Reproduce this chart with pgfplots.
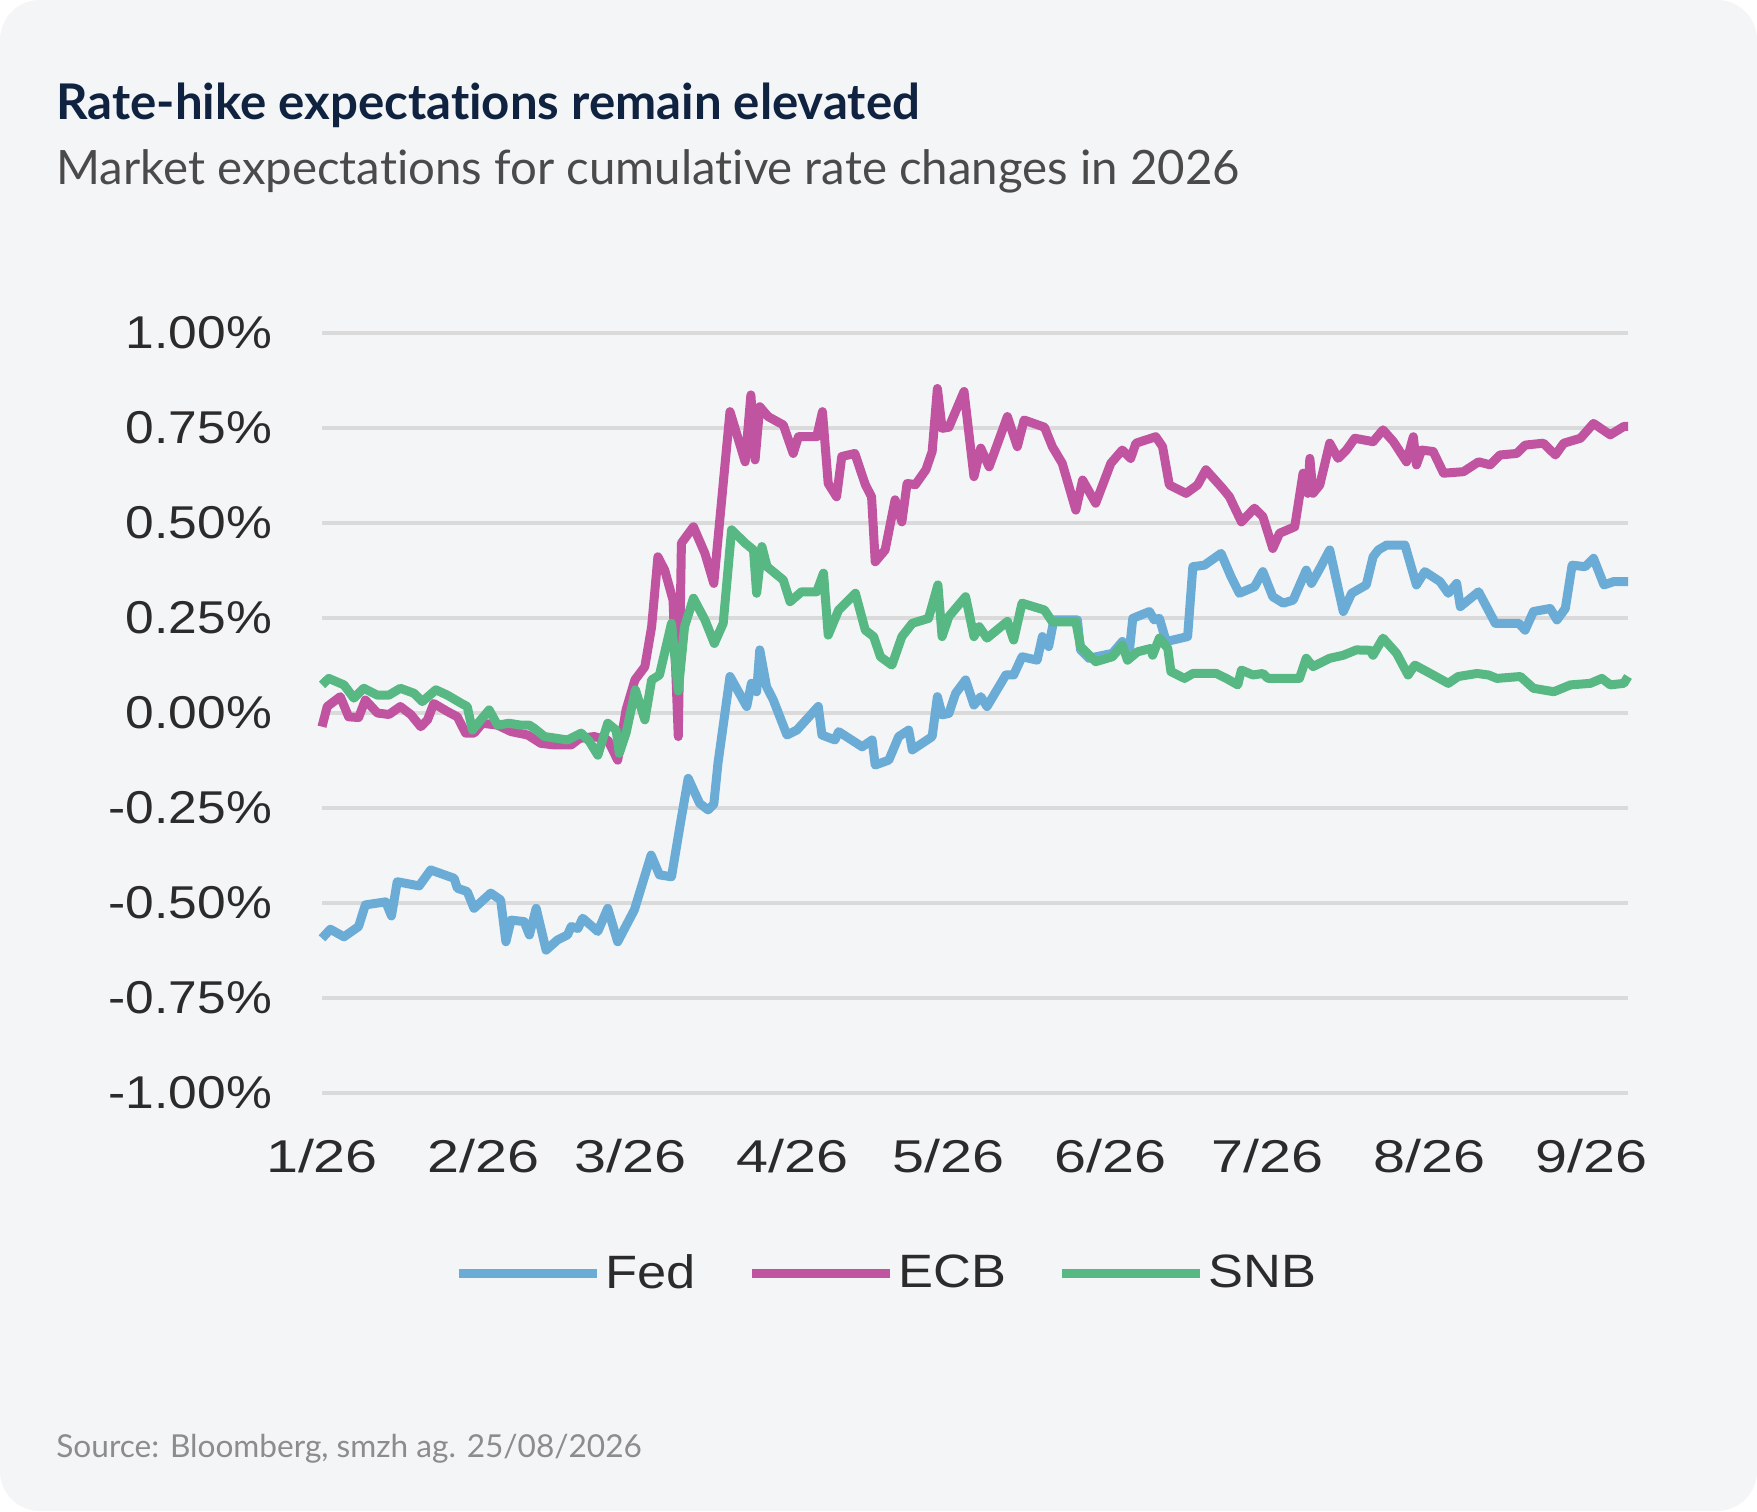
\documentclass[border=0pt]{standalone}
\usepackage{fontspec}
\usepackage{pgfplots}
\pgfplotsset{compat=1.18}
\setmainfont{Lato}[Ligatures={NoCommon}]
\newfontfamily\tickfont[FakeStretch=1.12]{Liberation Sans}
\newfontfamily\xtickfont[FakeStretch=1.25]{Liberation Sans}
\definecolor{bg}{HTML}{F4F5F7}
\definecolor{titlecol}{HTML}{0F2340}
\definecolor{subcol}{HTML}{4A4A4A}
\definecolor{srccol}{HTML}{8C8C8C}
\definecolor{gridcol}{HTML}{DADADA}
\definecolor{fedcol}{HTML}{6BACD6}
\definecolor{ecbcol}{HTML}{C054A0}
\definecolor{snbcol}{HTML}{57B884}
\definecolor{tickcol}{HTML}{2B2B2B}
\begin{document}
\begin{tikzpicture}
\useasboundingbox (0,0) rectangle (878.5pt,755.5pt);
\fill[white] (0,0) rectangle (878.5pt,755.5pt);
\fill[bg, rounded corners=20pt] (0,0) rectangle (878.5pt,755.5pt);
\node[anchor=base west, inner sep=0, text=titlecol, font=\fontsize{24.6pt}{29pt}\selectfont\bfseries] at (28pt,695.5pt) {Rate-hike expectations remain elevated};
\node[anchor=base west, inner sep=0, text=subcol, font=\fontsize{23.7pt}{28pt}\selectfont] at (28pt,663pt) {Market expectations for cumulative rate changes in 2026};
\node[anchor=base west, inner sep=0, text=srccol, font=\fontsize{15.8pt}{18pt}\selectfont] at (28pt,27pt) {Source: Bloomberg, smzh ag. 25/08/2026};
\begin{axis}[
  at={(161pt,209pt)}, anchor=south west, scale only axis,
  width=653pt, height=380pt,
  xmin=0, xmax=250, ymin=-1, ymax=1,
  axis line style={draw=none},
  major tick length=0pt,
  clip=false,
  xtick={0,31,59,90,120,151,181,212,243},
  xticklabels={1/26,2/26,3/26,4/26,5/26,6/26,7/26,8/26,9/26},
  ytick={-1,-0.75,-0.5,-0.25,0,0.25,0.5,0.75,1},
  yticklabels={-1.00\%,-0.75\%,-0.50\%,-0.25\%,0.00\%,0.25\%,0.50\%,0.75\%,1.00\%},
  ymajorgrids,
  major grid style={gridcol, line width=2pt},
  yticklabel style={font=\tickfont\fontsize{23pt}{26pt}\selectfont, text=tickcol, anchor=east, xshift=-21.5pt},
  xticklabel style={font=\xtickfont\fontsize{23pt}{26pt}\selectfont, text=tickcol, anchor=base, yshift=-40pt},
  legend columns=3,
  legend style={draw=none, fill=none, at={(0.101,-0.237)}, anchor=west, inner sep=0pt,
    font=\tickfont\fontsize{23.4pt}{28pt}\selectfont, text=tickcol,
    /tikz/every even column/.append style={column sep=23.8pt}},
  legend image code/.code={\draw[#1, line width=4.5pt] (0pt,0pt) -- (69pt,0pt);},
  every axis plot/.append style={line width=4.5pt, line join=round},
]
\addplot[fedcol] coordinates {
(0,-0.593)(1.6,-0.569)(4.2,-0.589)(7.0,-0.562)(8.3,-0.505)(12.2,-0.497)(13.3,-0.534)(14.4,-0.444)
(18.6,-0.455)(20.8,-0.413)(25.3,-0.435)(25.9,-0.461)(27.8,-0.470)(29.1,-0.514)(32.3,-0.474)(34.2,-0.492)
(35.2,-0.602)(36.2,-0.545)(38.7,-0.549)(39.7,-0.584)(41.0,-0.514)(42.9,-0.624)(45.1,-0.597)(47.0,-0.584)
(47.7,-0.562)(49.0,-0.567)(49.9,-0.540)(52.8,-0.575)(54.7,-0.514)(56.6,-0.602)(59.8,-0.518)(63.0,-0.374)
(64.6,-0.426)(66.9,-0.431)(68.5,-0.299)(70.1,-0.172)(72.3,-0.238)(73.9,-0.255)(75.0,-0.240)(75.8,-0.132)
(78.1,0.096)(81.3,0.017)(82.2,0.078)(83.2,0.056)(83.8,0.166)(85.1,0.069)(86.4,0.034)(89.0,-0.058)
(90.9,-0.045)(95.0,0.017)(95.7,-0.058)(98.2,-0.071)(98.9,-0.049)(103.4,-0.089)(105.3,-0.071)(105.9,-0.137)
(108.5,-0.124)(110.4,-0.062)(112.3,-0.045)(113.0,-0.097)(116.8,-0.062)(117.8,0.043)(118.7,-0.005)(120.0,-0.001)
(121.3,0.052)(123.2,0.087)(124.8,0.021)(126.1,0.043)(127.3,0.017)(130.9,0.100)(132.4,0.100)(134.0,0.148)
(136.9,0.139)(137.9,0.201)(139.1,0.175)(140.1,0.245)(144.6,0.245)(145.2,0.166)(146.8,0.144)(151.3,0.157)
(153.2,0.188)(154.5,0.157)(155.2,0.249)(158.4,0.267)(159.3,0.245)(160.3,0.249)(161.6,0.188)(165.7,0.201)
(166.7,0.385)(168.9,0.389)(172.1,0.420)(174.0,0.359)(175.6,0.315)(178.5,0.332)(180.1,0.372)(182.0,0.306)
(184.0,0.289)(185.9,0.297)(188.4,0.376)(189.4,0.341)(191.0,0.380)(192.9,0.429)(195.5,0.267)(197.1,0.315)
(199.9,0.337)(201.2,0.411)(202.2,0.429)(203.8,0.442)(207.3,0.442)(209.5,0.337)(211.1,0.372)(214.0,0.346)
(215.6,0.315)(217.2,0.341)(217.9,0.280)(221.4,0.319)(224.6,0.236)(229.1,0.236)(230.3,0.218)(231.9,0.267)
(235.1,0.275)(236.4,0.245)(238.0,0.275)(239.3,0.389)(241.8,0.385)(243.4,0.407)(245.4,0.337)(247.3,0.346)
(250,0.346)};
\addlegendentry{Fed}
\addplot[ecbcol] coordinates {
(0,-0.036)(1.0,0.017)(3.5,0.043)(5.1,-0.010)(7.0,-0.012)(8.3,0.034)(10.6,0.000)(12.8,-0.004)
(15.0,0.017)(17.0,-0.004)(18.9,-0.036)(20.2,-0.018)(21.4,0.025)(24.0,0.004)(25.9,-0.010)(27.5,-0.053)
(29.1,-0.053)(30.7,-0.027)(33.6,-0.032)(36.2,-0.049)(39.4,-0.058)(41.9,-0.080)(44.5,-0.084)(47.7,-0.084)
(49.3,-0.067)(52.1,-0.062)(54.7,-0.071)(56.6,-0.124)(58.2,0.008)(59.9,0.087)(61.8,0.122)(63.1,0.227)
(64.3,0.411)(65.6,0.376)(67.2,0.297)(68.2,-0.062)(68.8,0.447)(71.1,0.490)(73.3,0.420)(75.0,0.341)
(78.1,0.793)(81.0,0.661)(82.1,0.837)(82.9,0.666)(83.8,0.806)(85.4,0.780)(88.3,0.758)(90.2,0.683)
(91.2,0.727)(94.7,0.727)(95.8,0.793)(96.9,0.604)(98.5,0.569)(99.5,0.675)(102.0,0.683)(104.0,0.601)
(105.2,0.569)(105.9,0.398)(107.8,0.429)(109.7,0.561)(111.0,0.503)(112.0,0.604)(113.6,0.601)(115.6,0.640)
(116.8,0.688)(117.8,0.854)(118.7,0.749)(120.0,0.752)(122.9,0.846)(124.8,0.622)(126.1,0.697)(127.7,0.648)
(131.2,0.780)(133.1,0.701)(134.4,0.771)(138.3,0.752)(139.8,0.701)(141.7,0.657)(144.3,0.534)(145.6,0.613)
(148.1,0.552)(151.0,0.657)(153.2,0.692)(154.8,0.670)(155.8,0.710)(159.6,0.727)(160.9,0.701)(162.2,0.600)
(165.4,0.578)(167.6,0.600)(169.2,0.640)(172.4,0.591)(173.7,0.569)(176.0,0.503)(178.5,0.539)(180.1,0.517)
(182.0,0.433)(183.3,0.473)(186.2,0.490)(187.8,0.631)(188.7,0.578)(189.1,0.670)(189.7,0.578)(191.0,0.600)
(192.9,0.710)(194.5,0.670)(196.1,0.692)(197.7,0.723)(201.2,0.714)(203.1,0.745)(205.1,0.714)(207.6,0.661)
(208.9,0.727)(209.5,0.653)(210.5,0.692)(212.7,0.688)(214.7,0.631)(218.5,0.635)(221.4,0.661)(223.6,0.653)
(225.5,0.679)(228.7,0.683)(230.3,0.705)(233.8,0.710)(236.1,0.679)(237.7,0.710)(240.9,0.723)(243.4,0.762)
(246.6,0.732)(249.2,0.754)(250,0.754)};
\addlegendentry{ECB}
\addplot[snbcol] coordinates {
(0,0.074)(1.3,0.091)(4.2,0.074)(6.1,0.039)(8.0,0.065)(10.6,0.047)(12.8,0.047)(15.0,0.065)
(17.6,0.052)(19.2,0.030)(21.8,0.061)(24.0,0.047)(26.6,0.026)(27.8,0.017)(28.8,-0.045)(30.4,-0.018)
(32.0,0.008)(33.6,-0.032)(35.8,-0.027)(38.1,-0.032)(39.7,-0.032)(40.6,-0.040)(42.6,-0.062)(47.0,-0.071)
(49.6,-0.053)(51.2,-0.075)(52.8,-0.111)(54.7,-0.027)(56.3,-0.045)(56.9,-0.106)(58.2,-0.053)(60.0,0.061)
(61.8,-0.018)(63.1,0.087)(64.6,0.100)(66.9,0.236)(68.2,0.058)(69.4,0.227)(71.1,0.302)(73.3,0.245)
(75.1,0.183)(76.8,0.236)(78.4,0.482)(81.0,0.447)(82.6,0.429)(83.2,0.315)(84.2,0.438)(85.2,0.385)
(88.3,0.350)(89.6,0.293)(91.8,0.319)(94.7,0.319)(96.0,0.368)(96.9,0.205)(98.9,0.271)(102.1,0.315)
(104.0,0.218)(105.6,0.201)(106.9,0.148)(109.1,0.126)(111.0,0.201)(113.0,0.236)(116.1,0.249)(117.9,0.337)
(118.7,0.201)(120.0,0.254)(123.2,0.306)(124.8,0.201)(125.8,0.227)(127.3,0.197)(131.2,0.241)(132.4,0.192)
(134.0,0.289)(138.3,0.271)(139.8,0.240)(144.3,0.240)(145.2,0.175)(148.1,0.135)(151.3,0.148)(153.2,0.179)
(154.2,0.139)(156.1,0.161)(158.7,0.170)(159.0,0.152)(160.3,0.197)(161.9,0.170)(162.5,0.109)(165.1,0.091)
(166.7,0.104)(171.2,0.104)(173.1,0.091)(175.3,0.074)(176.0,0.113)(178.2,0.100)(180.1,0.104)(181.1,0.091)
(187.1,0.091)(188.4,0.144)(189.7,0.122)(192.9,0.144)(195.5,0.152)(198.0,0.166)(200.6,0.165)(201.2,0.152)
(203.1,0.197)(205.7,0.157)(207.9,0.100)(209.2,0.126)(211.5,0.109)(215.6,0.078)(217.5,0.096)(221.1,0.104)
(223.3,0.100)(224.9,0.091)(229.4,0.096)(231.9,0.065)(235.8,0.056)(239.0,0.074)(242.8,0.078)(245.0,0.091)
(246.6,0.074)(249.2,0.078)(250,0.096)};
\addlegendentry{SNB}
\end{axis}
\end{tikzpicture}
\end{document}
